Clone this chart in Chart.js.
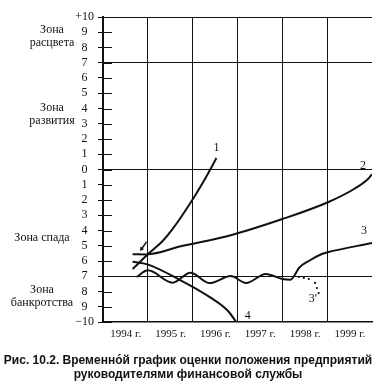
<!DOCTYPE html>
<html><head><meta charset="utf-8">
<script src="https://cdn.jsdelivr.net/npm/chart.js@4.4.1/dist/chart.umd.min.js"></script>
<style>html,body{margin:0;padding:0;background:#fff;}canvas{display:block;}</style>
</head><body>
<canvas id="c" width="378" height="390"></canvas>
<script>
// ---- data ----
const years = ['1994 г.', '1995 г.', '1996 г.', '1997 г.', '1998 г.', '1999 г.'];
const zoneNames = [['Зона', 'расцвета'], ['Зона', 'развития'], ['Зона спада'], ['Зона', 'банкротства']];
const zoneCenters = [8.7, 3.6, -4.5, -8.3];
const boundaryLines = [10, 7, 0, -7];

const curve1X = [0.66, 1.03, 1.32, 1.52, 2.02, 2.35, 2.53];
const curve1Y = [-6.53, -5.48, -4.72, -4.03, -1.87, -0.23, 0.75];

const curve2X = [0.66, 0.97, 1.76, 2.79, 4.0, 5.03, 5.6, 5.91, 6.0];
const curve2Y = [-5.56, -5.57, -5.02, -4.36, -3.25, -2.13, -1.28, -0.62, -0.3];

const curve3X = [0.75, 1.0, 1.55, 1.95, 2.38, 2.85, 3.19, 3.63, 4.0, 4.18, 4.26, 4.37, 4.59, 4.88, 5.03, 6.0];
const curve3Y = [-7.05, -6.61, -7.42, -6.77, -7.45, -6.98, -7.44, -6.85, -7.18, -7.23, -7.0, -6.46, -6.0, -5.54, -5.41, -4.82];

const curve3dX = [4.37, 4.48, 4.59, 4.73, 4.77, 4.81];
const curve3dY = [-7.05, -7.11, -7.18, -7.44, -7.77, -8.1];

const curve4X = [0.66, 0.99, 1.69, 2.4, 2.79, 2.97];
const curve4Y = [-6.05, -6.22, -7.2, -8.4, -9.28, -10];

const arrowX = [0.97, 0.86];
const arrowY = [-4.75, -5.21];

const curveLabels = ['1', '2', '3', "3'", '4'];
const curveLabelX = [2.53, 5.8, 5.82, 4.68, 3.23];
const curveLabelY = [1.45, 0.25, -4.05, -8.5, -9.6];

const caption = ['Рис. 10.2. Временно́й график оценки положения предприятий', 'руководителями финансовой службы'];

// ---- helpers ----
const pts = (xs, ys) => xs.map((x, i) => ({x: x, y: ys[i]}));
const ink = '#111';
const serif = '"Liberation Serif", "Times New Roman", serif';

const lineStyle = {
  borderColor: ink, borderWidth: 2, pointRadius: 0, fill: false,
  cubicInterpolationMode: 'monotone'
};

const annot = {
  id: 'annot',
  afterDraw(chart) {
    const {ctx, chartArea, scales} = chart;
    const x = scales.x, y = scales.y;
    ctx.save();
    ctx.strokeStyle = ink; ctx.lineWidth = 1;
    y.ticks.forEach(t => {
      const py = Math.round(y.getPixelForValue(t.value)) + 0.5;
      ctx.beginPath(); ctx.moveTo(chartArea.left, py); ctx.lineTo(chartArea.left + 9, py); ctx.stroke();
    });
    ctx.fillStyle = ink; ctx.textAlign = 'center'; ctx.textBaseline = 'middle';
    ctx.font = '12px ' + serif;
    zoneNames.forEach((lines, i) => {
      const cy = y.getPixelForValue(zoneCenters[i]);
      const cx = i < 2 ? 52 : 42;
      lines.forEach((ln, j) => ctx.fillText(ln, cx, cy + (j - (lines.length - 1) / 2) * 13));
    });
    ctx.font = '12px ' + serif;
    curveLabels.forEach((t, i) => ctx.fillText(t, x.getPixelForValue(curveLabelX[i]), y.getPixelForValue(curveLabelY[i])));
    ctx.restore();
  }
};

new Chart(document.getElementById('c'), {
  type: 'line',
  data: {
    datasets: [
      Object.assign({data: pts(curve1X, curve1Y)}, lineStyle),
      Object.assign({data: pts(curve2X, curve2Y)}, lineStyle),
      Object.assign({data: pts(curve3X, curve3Y)}, lineStyle),
      Object.assign({data: pts(curve4X, curve4Y)}, lineStyle),
      {data: pts(curve3dX, curve3dY), showLine: false, pointRadius: 1.1, pointBackgroundColor: ink, pointBorderWidth: 0},
      {data: pts(arrowX, arrowY), borderColor: ink, borderWidth: 1.5, pointRadius: [0, 2.6],
       pointStyle: 'triangle', pointRotation: 215, pointBackgroundColor: ink, pointBorderColor: ink, pointBorderWidth: 0}
    ]
  },
  options: {
    responsive: false, animation: false, devicePixelRatio: 1, events: [],
    layout: {padding: {left: 0, right: 2, top: 17, bottom: 0}},
    plugins: {
      legend: {display: false}, tooltip: {enabled: false},
      title: {display: true, position: 'bottom', text: caption, color: ink,
        font: {family: '"Liberation Sans", Arial, sans-serif', weight: 'bold', size: 12, lineHeight: 1.15},
        padding: {top: 1, bottom: 8.4}}
    },
    scales: {
      x: {
        type: 'linear', min: 0, max: 6,
        afterFit(s) { s.height = 31; },
        border: {display: true, color: ink, width: 1.5},
        grid: {drawTicks: false, lineWidth: 1,
          color: c => (c.tick && c.tick.value > 0 && c.tick.value < 6) ? ink : 'rgba(0,0,0,0)'},
        ticks: {stepSize: 1, autoSkip: false, maxRotation: 0, labelOffset: 22.75, padding: 6,
          color: ink, font: {family: serif, size: 11},
          callback: v => (Number.isInteger(v) && v >= 0 && v < 6) ? years[v] : ''}
      },
      y: {
        type: 'linear', min: -10, max: 10,
        afterFit(s) { s.width = 103; },
        border: {display: true, color: ink, width: 2},
        grid: {drawTicks: true, tickLength: 5, tickColor: ink, lineWidth: 1,
          color: c => (c.tick && boundaryLines.includes(c.tick.value)) ? ink : 'rgba(0,0,0,0)'},
        ticks: {stepSize: 1, autoSkip: false, crossAlign: 'center', padding: 4,
          color: ink, font: {family: serif, size: 12},
          callback: v => v === 10 ? '+10' : (v === -10 ? '−10' : String(Math.abs(v)))}
      }
    }
  },
  plugins: [annot]
});
</script>
</body></html>
